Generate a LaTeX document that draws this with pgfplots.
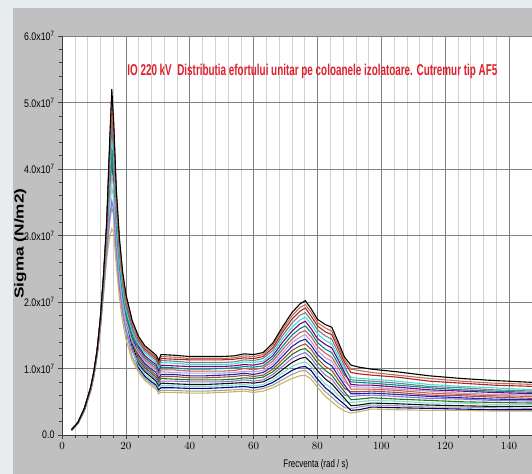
\documentclass[border=0pt]{standalone}
\usepackage{pgfplots}
\pgfplotsset{compat=1.18}
\usepackage{pgfplotstable}
\usepackage{graphicx}
\usepackage{fontspec}
\setmainfont{Liberation Sans}
\newfontfamily\narrowfont[FakeStretch=0.8]{Liberation Sans}
\newfontfamily\xlabfont[FakeStretch=0.72]{Liberation Sans}
\definecolor{bgcol}{HTML}{E7ECEF}
\definecolor{panel}{HTML}{C0C0C0}
\definecolor{titlered}{HTML}{E0202C}
\definecolor{c0}{HTML}{C8B560}
\definecolor{c1}{HTML}{A0A0A0}
\definecolor{c2}{HTML}{000080}
\definecolor{c3}{HTML}{7FDDD0}
\definecolor{c4}{HTML}{101010}
\definecolor{c5}{HTML}{9370DB}
\definecolor{c6}{HTML}{1E7B1E}
\definecolor{c7}{HTML}{A0522D}
\definecolor{c8}{HTML}{2020C0}
\definecolor{c9}{HTML}{B8A0D0}
\definecolor{c10}{HTML}{CD5C5C}
\definecolor{c11}{HTML}{008B8B}
\definecolor{c12}{HTML}{800080}
\definecolor{c13}{HTML}{40E0D0}
\definecolor{c14}{HTML}{708090}
\definecolor{c15}{HTML}{B22222}
\definecolor{c16}{HTML}{C07050}
\definecolor{c17}{HTML}{000000}
\pgfplotscreateplotcyclelist{curves}{
{c0,line width=1.1pt},{c1,line width=1.1pt},{c2,line width=1.1pt},{c3,line width=1.1pt},
{c4,line width=1.1pt},{c5,line width=1.1pt},{c6,line width=1.1pt},{c7,line width=1.1pt},
{c8,line width=1.1pt},{c9,line width=1.1pt},{c10,line width=1.1pt},{c11,line width=1.1pt},
{c12,line width=1.1pt},{c13,line width=1.1pt},{c14,line width=1.1pt},{c15,line width=1.1pt},
{c16,line width=1.1pt},{c17,line width=1.1pt}}
\pgfplotstableread{
x s0 s1 s2 s3 s4 s5 s6 s7 s8 s9 s10 s11 s12 s13 s14 s15 s16 s17
3 0.07 0.07 0.07 0.07 0.08 0.07 0.08 0.08 0.08 0.07 0.08 0.08 0.08 0.08 0.08 0.08 0.08 0.08
5 0.17 0.17 0.18 0.18 0.18 0.17 0.18 0.18 0.19 0.18 0.19 0.18 0.19 0.18 0.19 0.19 0.19 0.19
7 0.36 0.37 0.38 0.37 0.38 0.37 0.39 0.38 0.39 0.38 0.39 0.38 0.40 0.39 0.39 0.40 0.40 0.40
9 0.66 0.67 0.69 0.68 0.70 0.67 0.70 0.69 0.71 0.68 0.71 0.69 0.71 0.70 0.71 0.72 0.71 0.72
10 0.88 0.89 0.92 0.90 0.93 0.90 0.94 0.92 0.94 0.91 0.95 0.92 0.95 0.93 0.94 0.96 0.95 0.96
11 1.18 1.20 1.23 1.21 1.24 1.20 1.25 1.23 1.26 1.22 1.27 1.24 1.27 1.25 1.26 1.28 1.27 1.28
12 1.58 1.61 1.66 1.63 1.68 1.61 1.70 1.67 1.72 1.65 1.72 1.67 1.73 1.69 1.71 1.74 1.73 1.75
13 2.10 2.15 2.24 2.19 2.28 2.16 2.31 2.25 2.34 2.22 2.36 2.27 2.37 2.30 2.33 2.39 2.36 2.40
14 2.65 2.73 2.90 2.82 2.98 2.76 3.04 2.93 3.09 2.87 3.12 2.95 3.15 3.01 3.06 3.17 3.13 3.20
15 3.00 3.23 3.68 3.45 3.90 3.30 4.05 3.75 4.20 3.60 4.28 3.83 4.35 3.98 4.13 4.43 4.32 4.50
15.6 3.10 3.42 4.05 3.73 4.36 3.52 4.57 4.15 4.78 3.94 4.89 4.26 4.99 4.47 4.68 5.10 4.95 5.20
16.2 3.05 3.30 3.79 3.55 4.04 3.38 4.21 3.88 4.37 3.71 4.45 3.96 4.54 4.12 4.29 4.62 4.50 4.70
17 2.55 2.72 3.07 2.90 3.24 2.78 3.36 3.13 3.47 3.01 3.53 3.18 3.59 3.30 3.41 3.64 3.56 3.70
18 2.05 2.19 2.46 2.32 2.59 2.23 2.68 2.50 2.77 2.41 2.82 2.55 2.86 2.64 2.73 2.91 2.84 2.95
19 1.70 1.81 2.04 1.93 2.15 1.85 2.23 2.08 2.30 2.00 2.34 2.11 2.38 2.19 2.26 2.41 2.36 2.45
20 1.45 1.55 1.75 1.65 1.85 1.58 1.92 1.79 1.99 1.72 2.02 1.82 2.05 1.89 1.95 2.09 2.04 2.12
22 1.12 1.18 1.29 1.26 1.37 1.27 1.44 1.40 1.50 1.40 1.56 1.48 1.61 1.55 1.60 1.68 1.67 1.72
24 0.94 0.97 1.01 1.04 1.07 1.10 1.13 1.17 1.20 1.23 1.26 1.30 1.33 1.36 1.39 1.43 1.45 1.48
26 0.82 0.85 0.88 0.91 0.95 0.98 1.01 1.04 1.07 1.10 1.13 1.16 1.19 1.23 1.26 1.29 1.31 1.34
28 0.74 0.77 0.80 0.83 0.87 0.90 0.93 0.96 0.99 1.02 1.05 1.08 1.11 1.15 1.18 1.21 1.23 1.26
29.5 0.69 0.72 0.75 0.78 0.81 0.84 0.87 0.90 0.94 0.97 1.00 1.03 1.06 1.09 1.12 1.15 1.18 1.20
30.3 0.62 0.65 0.68 0.71 0.74 0.77 0.80 0.83 0.86 0.89 0.92 0.95 0.98 1.01 1.04 1.07 1.10 1.12
31 0.64 0.67 0.71 0.74 0.78 0.81 0.85 0.88 0.91 0.95 0.98 1.02 1.05 1.09 1.12 1.15 1.18 1.21
35 0.64 0.67 0.71 0.74 0.77 0.81 0.84 0.88 0.91 0.94 0.98 1.01 1.04 1.08 1.11 1.14 1.17 1.20
40 0.63 0.66 0.70 0.73 0.76 0.80 0.83 0.86 0.89 0.93 0.96 0.99 1.03 1.06 1.09 1.13 1.15 1.18
45 0.63 0.66 0.70 0.73 0.76 0.80 0.83 0.86 0.89 0.93 0.96 0.99 1.03 1.06 1.09 1.13 1.15 1.18
50 0.64 0.67 0.71 0.74 0.77 0.80 0.83 0.87 0.90 0.93 0.96 1.00 1.03 1.06 1.09 1.13 1.15 1.18
54 0.65 0.68 0.72 0.75 0.78 0.81 0.84 0.88 0.91 0.94 0.97 1.01 1.04 1.07 1.10 1.14 1.16 1.19
57 0.66 0.69 0.73 0.76 0.79 0.83 0.86 0.90 0.93 0.96 1.00 1.03 1.06 1.10 1.13 1.16 1.19 1.22
60 0.64 0.67 0.71 0.74 0.78 0.81 0.85 0.88 0.91 0.95 0.98 1.02 1.05 1.09 1.12 1.15 1.18 1.21
63 0.66 0.70 0.73 0.76 0.80 0.83 0.87 0.90 0.94 0.97 1.01 1.04 1.08 1.11 1.15 1.18 1.21 1.24
66 0.71 0.75 0.79 0.83 0.87 0.91 0.95 0.99 1.03 1.07 1.11 1.15 1.19 1.23 1.27 1.31 1.35 1.38
69 0.78 0.83 0.88 0.93 0.98 1.03 1.08 1.13 1.18 1.23 1.28 1.33 1.39 1.44 1.49 1.54 1.58 1.62
72 0.85 0.91 0.97 1.03 1.09 1.15 1.21 1.27 1.33 1.39 1.44 1.50 1.56 1.62 1.68 1.74 1.79 1.84
74.5 0.89 0.96 1.02 1.08 1.15 1.21 1.28 1.34 1.41 1.47 1.54 1.60 1.67 1.73 1.80 1.86 1.92 1.97
76.2 0.90 0.97 1.03 1.10 1.17 1.24 1.30 1.37 1.44 1.51 1.57 1.64 1.71 1.77 1.84 1.91 1.96 2.02
78 0.84 0.90 0.97 1.03 1.09 1.16 1.22 1.29 1.35 1.41 1.48 1.54 1.60 1.67 1.73 1.79 1.85 1.90
80 0.72 0.78 0.84 0.90 0.97 1.03 1.09 1.15 1.21 1.27 1.33 1.39 1.45 1.52 1.58 1.64 1.69 1.74
82.5 0.58 0.65 0.71 0.77 0.84 0.90 0.97 1.03 1.10 1.16 1.23 1.29 1.36 1.42 1.49 1.55 1.61 1.66
84.5 0.50 0.57 0.63 0.70 0.77 0.84 0.90 0.97 1.04 1.11 1.17 1.24 1.31 1.37 1.44 1.51 1.56 1.62
86.5 0.42 0.48 0.54 0.60 0.66 0.71 0.77 0.83 0.89 0.95 1.01 1.07 1.13 1.18 1.24 1.30 1.35 1.40
88.5 0.36 0.41 0.46 0.51 0.55 0.60 0.65 0.70 0.75 0.80 0.85 0.90 0.94 0.99 1.04 1.09 1.13 1.17
90.5 0.33 0.40 0.37 0.49 0.44 0.58 0.53 0.65 0.62 0.73 0.69 0.80 0.76 0.87 0.83 0.94 0.99 1.05
93 0.35 0.42 0.38 0.50 0.45 0.59 0.54 0.65 0.62 0.72 0.69 0.79 0.75 0.85 0.82 0.92 0.97 1.02
97 0.39 0.45 0.42 0.52 0.48 0.60 0.56 0.66 0.63 0.72 0.69 0.78 0.75 0.84 0.81 0.90 0.94 0.99
105 0.38 0.44 0.41 0.51 0.47 0.58 0.54 0.64 0.61 0.69 0.67 0.75 0.72 0.81 0.78 0.87 0.90 0.95
115 0.37 0.42 0.40 0.48 0.45 0.55 0.52 0.60 0.58 0.66 0.63 0.71 0.68 0.76 0.73 0.81 0.85 0.89
125 0.37 0.42 0.39 0.48 0.44 0.54 0.50 0.59 0.56 0.63 0.61 0.68 0.66 0.73 0.71 0.78 0.81 0.85
135 0.36 0.41 0.38 0.46 0.43 0.52 0.49 0.57 0.54 0.61 0.59 0.66 0.64 0.71 0.68 0.75 0.78 0.82
148 0.36 0.40 0.38 0.46 0.43 0.51 0.48 0.55 0.53 0.60 0.58 0.64 0.62 0.68 0.66 0.73 0.76 0.79
}\datatable
\begin{document}
\begin{tikzpicture}
\useasboundingbox (0bp,0bp) rectangle (532bp,474bp);
\fill[bgcol] (0bp,0bp) rectangle (532bp,474bp);
\fill[panel] (13bp,0bp) rectangle (532bp,466bp);
\begin{axis}[
  scale only axis, width=470bp, height=399bp,
  at={(62bp,39bp)}, anchor=south west,
  xmin=0, xmax=147.2, ymin=0, ymax=6,
  axis x line*=bottom, axis y line*=left,
  axis line style={draw=black!75, line width=0.6pt},
  axis background/.style={fill=white},
  xtick={0,20,...,140}, minor x tick num=4,
  ytick={0,1,2,3,4,5,6},
  yticklabels={0.0,1.0x10\textsuperscript{7},2.0x10\textsuperscript{7},3.0x10\textsuperscript{7},4.0x10\textsuperscript{7},5.0x10\textsuperscript{7},6.0x10\textsuperscript{7}},
  minor y tick num=4,
  xmajorgrids, xminorgrids, ymajorgrids,
  major grid style={draw=black!50, line width=0.6pt},
  minor grid style={draw=black!18, line width=0.5pt},
  tick align=outside, major tick length=4bp, minor tick length=2.5bp,
  tick style={draw=black!75, line width=0.5pt},
  ticklabel style={font=\narrowfont\fontsize{11bp}{12bp}\selectfont, text=black},
  xlabel={Frecventa (rad / s)},
  xlabel style={font=\xlabfont\fontsize{11bp}{13bp}\selectfont, at={(axis description cs:0.54,-0.075)}, anchor=center},
  ylabel={\resizebox{110bp}{\height}{\bfseries\fontsize{13bp}{15bp}\selectfont Sigma (N/m2)}},
  ylabel style={at={(axis description cs:-0.089,0.48)}, anchor=center},
  cycle list name=curves,
]
\pgfplotsinvokeforeach{0,...,17}{\addplot table[x=x,y=s#1]{\datatable};}
\node[text=titlered, anchor=west, inner sep=0pt] at (axis cs:20.4,5.47) {\resizebox{370bp}{1.12\height}{\bfseries\fontsize{14bp}{16bp}\selectfont IO 220 kV\ \ Distributia efortului unitar pe coloanele izolatoare. Cutremur tip AF5}};
\end{axis}
\end{tikzpicture}
\end{document}
